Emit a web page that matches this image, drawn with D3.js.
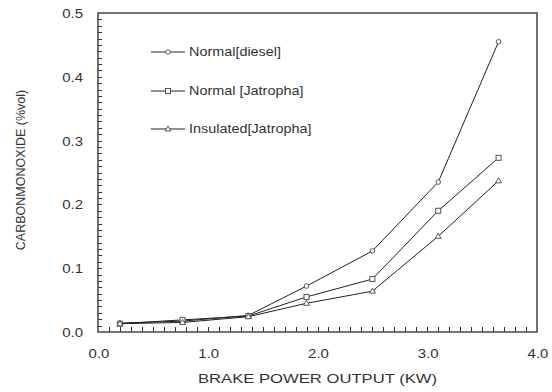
<!DOCTYPE html>
<html>
<head>
<meta charset="utf-8">
<script src="https://cdn.jsdelivr.net/npm/d3@7"></script>
<style>
  body { margin: 0; background: #fff; }
  text { font-family: Arial, "Liberation Sans", sans-serif; fill: #333; }
</style>
</head>
<body>
<div id="chart"></div>
<script>
// Data
const power = [0.2, 0.77, 1.37, 1.9, 2.5, 3.1, 3.65];
const dieselNormal = [0.014, 0.017, 0.026, 0.072, 0.127, 0.235, 0.455];
const jatrophaNormal = [0.013, 0.019, 0.025, 0.055, 0.083, 0.19, 0.273];
const jatrophaInsulated = [0.013, 0.015, 0.024, 0.045, 0.064, 0.15, 0.237];
const seriesNames = ['Normal[diesel]', 'Normal [Jatropha]', 'Insulated[Jatropha]'];
const xTicks = [0, 1, 2, 3, 4];
const yTicks = [0, 0.1, 0.2, 0.3, 0.4, 0.5];

const series = [
    { name: seriesNames[0], values: dieselNormal, marker: 'circle' },
    { name: seriesNames[1], values: jatrophaNormal, marker: 'square' },
    { name: seriesNames[2], values: jatrophaInsulated, marker: 'triangle' },
];

// Dimensions
const dimensions = { width: 552, height: 392, left: 98, right: 537, top: 13, bottom: 332 };

const svg = d3.select('#chart')
    .append('svg')
    .attr('width', dimensions.width)
    .attr('height', dimensions.height);

// Scales
const xScale = d3.scaleLinear().domain([0, 4]).range([dimensions.left, dimensions.right]);
const yScale = d3.scaleLinear().domain([0, 0.5]).range([dimensions.bottom, dimensions.top]);

// the original's text is stretched sideways, so scale it in x only
function stretchedText(parent, x, y, str, size, sx, anchor) {
    return parent.append('text')
        .attr('transform', `translate(${x}, ${y}) scale(${sx}, 1)`)
        .attr('text-anchor', anchor)
        .attr('font-size', size)
        .text(str);
}

// Minor ticks (inside the frame)
const xMinor = d3.range(1, 40).map(i => i / 10);
const yMinor = d3.range(1, 50).map(i => i / 100);

svg.append('g').selectAll('line')
    .data(xMinor)
    .join('line')
    .attr('x1', d => Math.round(xScale(d)) + 0.5)
    .attr('x2', d => Math.round(xScale(d)) + 0.5)
    .attr('y1', dimensions.bottom)
    .attr('y2', dimensions.bottom - 5)
    .attr('stroke', '#333')
    .attr('stroke-width', 1);

svg.append('g').selectAll('line')
    .data(yMinor)
    .join('line')
    .attr('x1', dimensions.left)
    .attr('x2', dimensions.left + 4)
    .attr('y1', d => Math.round(yScale(d)) + 0.5)
    .attr('y2', d => Math.round(yScale(d)) + 0.5)
    .attr('stroke', '#333')
    .attr('stroke-width', 1);

// Frame
svg.append('rect')
    .attr('x', dimensions.left)
    .attr('y', dimensions.top)
    .attr('width', dimensions.right - dimensions.left)
    .attr('height', dimensions.bottom - dimensions.top)
    .attr('fill', 'none')
    .attr('stroke', '#444')
    .attr('stroke-width', 1.5);

// Tick labels
const fmt = d3.format('.1f');
xTicks.forEach(d => stretchedText(svg, xScale(d) + 1, dimensions.bottom + 26, fmt(d), 13, 1.15, 'middle'));
yTicks.forEach(d => stretchedText(svg, dimensions.left - 15, yScale(d) + 5, fmt(d), 13, 1.15, 'end'));

// Axis titles
stretchedText(svg, (dimensions.left + dimensions.right) / 2, 383, 'BRAKE POWER OUTPUT (KW)', 13, 1.28, 'middle');

svg.append('text')
    .attr('transform', 'translate(25, 170) rotate(-90)')
    .attr('text-anchor', 'middle')
    .attr('font-size', 12.5)
    .text('CARBONMONOXIDE (%vol)');

// Markers
function drawMarker(g, type, x, y) {
    if (type === 'circle') {
        g.append('circle').attr('cx', x).attr('cy', y).attr('r', 2.3);
    } else if (type === 'square') {
        g.append('rect').attr('x', x - 2.5).attr('y', y - 2.5).attr('width', 5).attr('height', 5);
    } else {
        g.append('path').attr('d', `M${x},${y - 3}L${x + 3},${y + 2}L${x - 3},${y + 2}Z`);
    }
}

const lineGenerator = d3.line()
    .x((d, i) => xScale(power[i]))
    .y(d => yScale(d));

series.forEach(s => {
    svg.append('path')
        .datum(s.values)
        .attr('d', lineGenerator)
        .attr('fill', 'none')
        .attr('stroke', '#222')
        .attr('stroke-width', 1);

    const mg = svg.append('g')
        .attr('fill', '#fff')
        .attr('stroke', '#555')
        .attr('stroke-width', 1);
    s.values.forEach((v, i) => drawMarker(mg, s.marker, xScale(power[i]), yScale(v)));
});

// Legend
const legendY = [52, 91, 129];
series.forEach((s, i) => {
    const g = svg.append('g');
    g.append('line')
        .attr('x1', 151).attr('x2', 185)
        .attr('y1', legendY[i]).attr('y2', legendY[i])
        .attr('stroke', '#222');
    const mg = g.append('g').attr('fill', '#fff').attr('stroke', '#555');
    drawMarker(mg, s.marker, 168, legendY[i]);
    stretchedText(g, 189, legendY[i] + 4, s.name, 12, 1.2, 'start');
});
</script>
</body>
</html>
